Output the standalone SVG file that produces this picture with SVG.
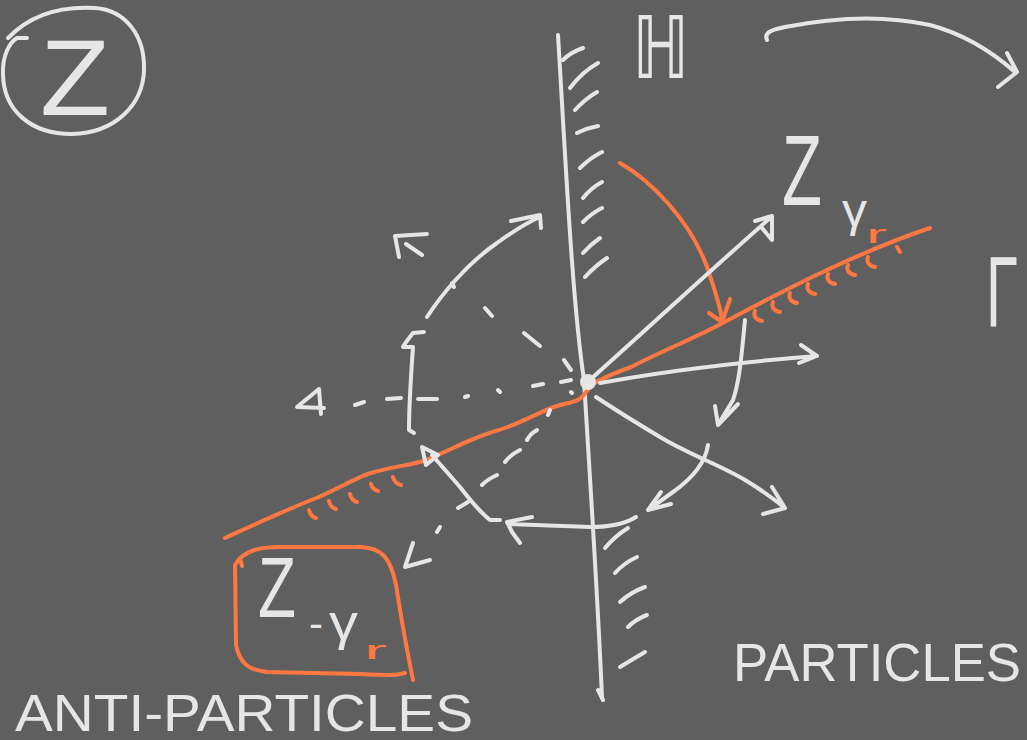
<svg xmlns="http://www.w3.org/2000/svg" width="1027" height="740" viewBox="0 0 1027 740">
<style>
.w{fill:none;stroke:#e6e6e6;stroke-width:4;stroke-linecap:round;stroke-linejoin:round}
.o{fill:none;stroke:#ff7842;stroke-width:4;stroke-linecap:round;stroke-linejoin:round}
.t{font-family:"Liberation Sans","DejaVu Sans",Arial,sans-serif;fill:#e6e6e6}
.to{font-family:"Liberation Sans","DejaVu Sans",Arial,sans-serif;fill:#ff7842}
</style>
<rect width="1027" height="740" fill="#5f5f5f"/>

<g id="circled-z">
<path class="w" d="M8,38 C30,15 60,6 95,8 C125,10 145,35 144,70 C143,105 115,133 72,134 C30,134 4,110 3,75 C2,55 10,42 17,38 L27,38"/>
<text class="t" x="40" y="115" font-size="108" textLength="70" lengthAdjust="spacingAndGlyphs">Z</text>
</g>

<g id="label-H">
<text class="t" x="632" y="78" font-size="86" textLength="57" lengthAdjust="spacingAndGlyphs" style="font-family:'DejaVu Sans',sans-serif">ℍ</text>
</g>

<g id="label-Gamma">
<text class="t" x="986" y="326" font-size="100" textLength="32" lengthAdjust="spacingAndGlyphs">Γ</text>
</g>

<g id="label-z-gamma">
<text class="t" x="782" y="205" font-size="100" textLength="40" lengthAdjust="spacingAndGlyphs">Z</text>
<text class="t" x="842" y="226" font-size="46" textLength="25" lengthAdjust="spacingAndGlyphs">γ</text>
<text class="to" x="866" y="243" font-size="26" textLength="21" lengthAdjust="spacingAndGlyphs">r</text>
</g>

<g id="label-z-minus-gamma">
<path class="o" d="M240,558 C250,550 260,547 280,547 L360,547 C380,548 390,555 396,585 C400,610 405,640 410,665 L413,680 M405,673 C395,676 380,675 360,674 L267,672 C250,670 240,665 236,645 L235,565 L240,558 L242,566"/>
<text class="t" x="258" y="617" font-size="85" textLength="38" lengthAdjust="spacingAndGlyphs">Z</text>
<text class="t" x="309" y="637" font-size="40" textLength="14" lengthAdjust="spacingAndGlyphs">-</text>
<text class="t" x="329" y="640" font-size="50" textLength="29" lengthAdjust="spacingAndGlyphs">γ</text>
<text class="to" x="364" y="659" font-size="26" textLength="23" lengthAdjust="spacingAndGlyphs">r</text>
</g>

<g id="label-particles">
<text class="t" x="733" y="681" font-size="54" textLength="288" lengthAdjust="spacingAndGlyphs">PARTICLES</text>
</g>
<g id="label-anti-particles">
<text class="t" x="15" y="731" font-size="52" textLength="458" lengthAdjust="spacingAndGlyphs">ANTI-PARTICLES</text>
</g>

<g id="wall">
<path class="w" d="M558,35 C565,150 572,300 584,380 C590,480 598,600 602,698 M598,690 L603,700"/>
<path class="w" d="M563,60 Q571,52 583,48 M570,88 Q582,72 598,63 M575,110 Q585,99 597,92 M577,133 Q587,128 598,126 M580,168 Q590,158 602,152 M583,198 Q591,188 602,182 M583,222 Q592,213 602,208 M583,253 Q591,244 600,238 M585,277 Q595,266 607,258"/>
<path class="w" d="M605,548 Q615,536 628,528 M615,573 Q624,563 637,557 M620,602 Q631,592 645,587 M628,627 Q636,619 647,615 M620,667 Q633,659 645,652"/>
</g>

<g id="real-line">
<path class="o" d="M225,538 C260,522 290,508 319,497 C345,485 360,476 371,473 C395,466 405,466 424,461 C450,450 465,442 476,438 C490,432 500,430 508,427 C530,418 545,410 554,407 C570,402 578,402 583,396 C588,389 592,384 598,381 C610,375 620,371 631,367 C660,352 690,340 719,325 C760,303 795,285 827,270 C870,250 900,238 930,228"/>
<path class="o" d="M755,311 C753,316 756,320 762,321 M773,302 C771,307 774,311 780,312 M790,293 C788,298 791,302 797,303 M808,284 C806,289 809,293 815,294 M828,274 C826,279 829,283 835,284 M848,265 C846,270 849,274 855,275 M868,257 C866,262 869,266 875,267 M897,247 L900,252"/>
<path class="o" d="M309,510 C310,514 312,517 316,518 M329,501 C330,505 332,508 336,509 M350,494 C351,498 353,501 357,502 M371,484 C372,488 374,490 378,491 M393,477 C394,481 397,484 401,485"/>
</g>

<g id="center">
<circle cx="588" cy="382" r="8" fill="#e6e6e6"/>
</g>

<g id="connectors">
<path class="o" d="M620,163 C650,180 690,220 707,267 C715,290 720,305 722,320 M709,313 L722,322 L730,299"/>
<path class="w" d="M592,378 C640,335 700,280 770,218 M755,221 L772,216 L772,240 L762,228"/>
<path class="w" d="M600,383 C660,372 740,362 817,356 M801,345 L817,356 L799,363"/>
<path class="w" d="M596,397 C620,413 640,425 660,437 C690,455 720,465 745,480 C765,492 775,500 785,508 M772,487 L785,508 L763,514"/>
<path class="w" d="M745,320 C742,350 740,380 733,400 L718,425 M715,406 L718,425 L738,404"/>
<path class="w" d="M708,445 C705,465 690,480 673,492 C662,500 655,505 648,510 M661,492 L648,510 L671,504"/>
<path class="w" d="M636,517 C625,524 612,527 590,527 L508,524 M532,517 L507,522 L512,532 L520,543"/>
<path class="w" d="M500,520 L490,520 C480,512 470,500 460,487 L432,455"/>
<path class="w" d="M422,447 L426,465 L438,455 Z" fill="#e6e6e6"/>
<path class="w" d="M427,317 C440,297 465,265 497,243 C515,230 528,222 540,217 M511,221 L540,215 L541,228 M452,283 L454,287"/>
<path class="w" d="M424,332 L413,333 C409,338 405,343 403,347 L413,347 C411,375 409,405 409,430 L414,433"/>
<path class="w" d="M355,405 L364,402 M387,399 L401,398 M418,399 L437,399 M465,397 L468,396 M498,390 L500,392 M533,386 L543,384 M561,382 L571,380 M571,392 L572,393"/>
<path class="w" d="M319,389 L297,407 L324,408 M319,389 L321,414"/>
<path class="w" d="M485,308 L492,316 M524,333 L540,346 M564,360 L571,370"/>
<path class="w" d="M427,234 L395,236 L399,257 M406,244 L422,255"/>
<path class="w" d="M550,410 L548,415 M537,430 Q530,434 527,440 M520,450 Q510,455 505,462 M497,475 Q488,479 482,485 M468,502 L458,508 M440,527 L437,532"/>
<path class="w" d="M413,543 L405,567 L430,560"/>
<path class="w" d="M767,40 C764,33 770,30 785,27 C830,18 880,14 930,25 C960,33 990,50 1015,72 M1007,53 L1017,72 L998,87"/>
</g>
</svg>
